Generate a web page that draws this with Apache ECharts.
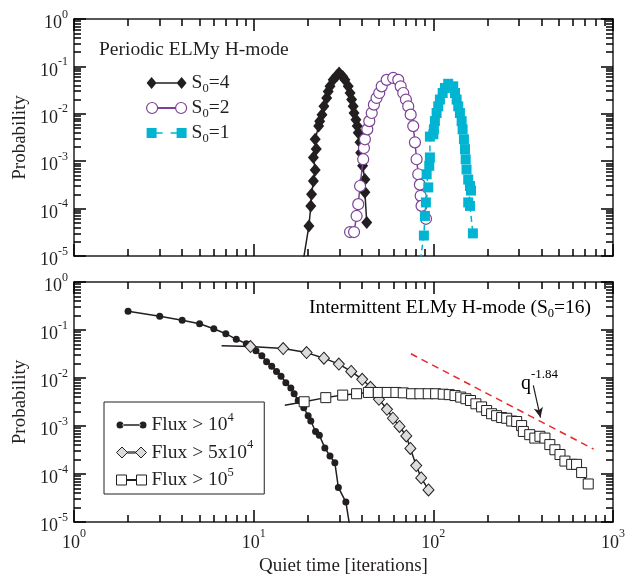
<!DOCTYPE html>
<html>
<head>
<meta charset="utf-8">
<script src="https://cdn.jsdelivr.net/npm/echarts@6/dist/echarts.min.js"></script>
<style>html,body{margin:0;padding:0;background:#fff}#c{width:628px;height:577px}</style>
</head>
<body>
<div id="c"></div>
<script>
// ---------- DATA ----------
// Top panel: Periodic ELMy H-mode
const s4X = [18.5, 20.3, 20.8, 21.0, 21.5, 22.0, 21.5, 22.3, 22.0, 23.0, 23.3, 24.0, 24.6, 25.5, 26.0, 26.6, 27.7, 29.0, 29.9, 31.3, 32.2, 33.6, 34.4, 35.1, 35.8, 36.2, 37.1, 37.7, 38.2, 39.1, 39.4, 40.4, 41.6, 41.6, 42.6];
const s4Y = [5e-6, 4.3e-5, 1.14e-4, 2e-4, 3.8e-4, 6.5e-4, 1.2e-3, 1.8e-3, 2.9e-3, 5.5e-3, 7e-3, 9.6e-3, 0.0144, 0.0216, 0.0297, 0.038, 0.052, 0.0635, 0.0723, 0.0615, 0.052, 0.038, 0.0275, 0.02, 0.0144, 0.0104, 0.0075, 0.0055, 0.004, 0.0025, 0.0015, 8e-4, 4.1e-4, 2.2e-4, 5.1e-5];
const s2X = [34.4, 36.2, 37.4, 38.2, 39.1, 40.7, 41.1, 41.6, 42.9, 44.0, 45.4, 46.7, 48.3, 50.0, 51.6, 55.0, 59.8, 63.8, 65.8, 68.0, 70.4, 72.5, 74.8, 77.3, 79.0, 80.7, 82.4, 84.2, 85.0, 86.0, 91.0];
const s2Y = [3.2e-5, 3.2e-5, 7e-5, 1.24e-4, 3e-4, 1.1e-3, 1.9e-3, 2.9e-3, 4.7e-3, 7e-3, 0.0104, 0.0156, 0.0216, 0.0275, 0.038, 0.052, 0.057, 0.052, 0.038, 0.0275, 0.02, 0.0144, 0.0096, 0.0055, 0.0025, 0.0011, 5.3e-4, 3.2e-4, 1.86e-4, 1.14e-4, 6.1e-5];
const s1X = [83.0, 88.6, 89.8, 90.9, 93.7, 91.8, 94.9, 95.7, 95.7, 100.0, 100.7, 102.0, 104.3, 106.5, 108.8, 112.7, 116.0, 121.0, 129.0, 132.0, 134.8, 137.6, 140.6, 143.7, 145.5, 148.0, 150.0, 151.4, 153.0, 156.4, 160.0, 162.0, 156.4, 160.0, 166.0];
const s1Y = [5e-6, 2.7e-5, 7e-5, 1.35e-4, 2.8e-4, 5.3e-4, 8e-4, 1.2e-3, 3.3e-3, 3.7e-3, 4.7e-3, 7e-3, 0.0104, 0.0144, 0.02, 0.0275, 0.035, 0.043, 0.038, 0.0275, 0.02, 0.0144, 0.0104, 0.007, 0.0047, 0.0029, 0.0018, 0.0011, 6.7e-4, 4.1e-4, 3e-4, 2.4e-4, 1.35e-4, 1.14e-4, 3e-5];

// Bottom panel: Intermittent ELMy H-mode (S0=16)
const f4X = [2, 3, 4, 5, 6, 7, 8, 9.1, 10.3, 11.1, 11.8, 12.6, 13.4, 14.2, 15.1, 16.1, 16.8, 17.7, 19.0, 20.1, 20.8, 22.1, 23.2, 24.9, 26.6, 28.3, 29.6, 32.6, 35.0];
const f4Y = [0.245, 0.193, 0.16, 0.135, 0.106, 0.0838, 0.064, 0.052, 0.0368, 0.029, 0.0219, 0.0175, 0.0136, 0.0109, 0.008, 0.0062, 0.0047, 0.0034, 0.0024, 0.00164, 0.00127, 0.00077, 0.00064, 0.00035, 0.000236, 0.000172, 5.25e-5, 2.6e-5, 5e-6];
const f5X = [6.63, 9.6, 14.6, 19.7, 24.6, 29.8, 34.9, 40.2, 44.7, 49.8, 55.2, 59.6, 64.8, 70.7, 74.5, 80.3, 85.6, 94.0];
const f5Y = [0.0467, 0.0452, 0.041, 0.0338, 0.0259, 0.0195, 0.0137, 0.0094, 0.0064, 0.0036, 0.00223, 0.00145, 0.00098, 0.00062, 0.00034, 0.00015, 8.3e-5, 4.65e-5];
const f6X = [14.9, 19.1, 25.2, 31.3, 37.4, 43.5, 49.4, 55.4, 61.9, 68, 75.7, 84.2, 93.7, 103, 113.5, 122.6, 132, 142, 151.8, 161, 172.6, 185.6, 198, 211, 225, 240, 256, 273, 291, 310, 317, 344, 367, 392, 418, 445, 475, 507, 540, 589, 627, 669, 728];
const f6Y = [0.00272, 0.0032, 0.0039, 0.0044, 0.0047, 0.005, 0.005, 0.005, 0.005, 0.0049, 0.0047, 0.0047, 0.0047, 0.0047, 0.0046, 0.0045, 0.0043, 0.004, 0.0037, 0.0034, 0.0029, 0.0025, 0.0021, 0.0018, 0.00164, 0.0015, 0.00145, 0.00127, 0.00124, 0.00102, 0.00077, 0.00066, 0.00056, 0.00061, 0.00056, 0.00041, 0.00032, 0.000255, 0.000186, 0.000159, 0.000159, 0.000107, 6.2e-5];
// Power-law guide q^-1.84 (end points) and arrow (tail, head)
const guideX = [75, 780];
const guideY = [0.032, 0.00033];
const arrowX = [360, 395];
const arrowY = [0.0070, 0.0015];

// Axis settings
const xMin = 1, xMax = 1000, yMin = 1e-5, yMax = 1;

// ---------- STYLE ----------
const FONT = 'Liberation Serif';
const INK = '#231f20';
const PURPLE = '#7b4397';
const CYAN = '#00b4d2';
const RED = '#e8282b';

function pts(xs, ys, noSym) {
  return xs.map((x, i) => {
    const it = { value: [x, ys[i]] };
    if (noSym && noSym.indexOf(i) >= 0) it.symbol = 'none';
    return it;
  });
}
function pow10Label(v) {
  const e = Math.round(Math.log10(v));
  return '{b|10}{s|' + e + '}';
}
const powRich = {
  b: { fontFamily: FONT, fontSize: 18, color: INK, padding: [9, 0, 0, 0] },
  s: { fontFamily: FONT, fontSize: 12, color: INK, padding: [0, 0, 9, 0] }
};

function logAxis(kind, gridIndex, position, opts) {
  const base = {
    type: 'log', gridIndex, position,
    min: kind === 'x' ? xMin : yMin, max: kind === 'x' ? xMax : yMax,
    axisLine: { show: true, onZero: false, lineStyle: { color: INK, width: 1.5 } },
    axisTick: { show: true, inside: true, length: 12, lineStyle: { color: '#000', width: 1.5 } },
    minorTick: { show: true, splitNumber: 9, length: 7, lineStyle: { color: '#000', width: 1.5 } },
    splitLine: { show: false }, minorSplitLine: { show: false },
    axisLabel: { show: false }
  };
  return Object.assign(base, opts || {});
}
const yLabel = { show: true, formatter: pow10Label, rich: powRich, margin: 6, align: 'right' };
const xLabel = { show: true, formatter: pow10Label, rich: powRich, margin: 3 };
const nameStyle = { fontFamily: FONT, fontSize: 19, color: INK };

const sub = { fontFamily: FONT, fontSize: 12.5, color: INK, padding: [12, 0, 0, 0] };
const sup = { fontFamily: FONT, fontSize: 12.5, color: INK, padding: [0, 0, 15, 0] };
const txt = { fontFamily: FONT, fontSize: 19.5, color: INK };

const chart = echarts.init(document.getElementById('c'));
chart.setOption({
  animation: false,
  backgroundColor: '#fff',
  grid: [
    { left: 74, top: 19, width: 539, height: 237 },
    { left: 74, top: 282, width: 539, height: 243 }
  ],
  xAxis: [
    logAxis('x', 0, 'bottom'),
    logAxis('x', 0, 'top'),
    logAxis('x', 1, 'bottom', { axisLabel: xLabel, name: 'Quiet time [iterations]', nameLocation: 'middle', nameGap: 35, nameTextStyle: nameStyle }),
    logAxis('x', 1, 'top')
  ],
  yAxis: [
    logAxis('y', 0, 'left', { axisLabel: yLabel, name: 'Probability', nameLocation: 'middle', nameGap: 34, nameTextStyle: nameStyle }),
    logAxis('y', 0, 'right'),
    logAxis('y', 1, 'left', { axisLabel: yLabel, name: 'Probability', nameLocation: 'middle', nameGap: 34, nameTextStyle: nameStyle }),
    logAxis('y', 1, 'right')
  ],
  legend: [
    {
      left: 146, top: 73, orient: 'vertical', itemWidth: 40, itemHeight: 12, itemGap: 2.5, padding: 0,
      selectedMode: false,
      textStyle: { fontFamily: FONT, fontSize: 19.5, color: INK, rich: { t: txt, n: sub } },
      formatter: n => '{t|S}{n|0}{t|=' + n.split('=')[1] + '}',
      data: [
        { name: 'S0=4', icon: 'path://M0,6L5,0L10,6L5,12ZM30,6L35,0L40,6L35,12ZM9,5.2L31,5.2L31,6.8L9,6.8Z', itemStyle: { color: INK, borderWidth: 0 } },
        { name: 'S0=2', icon: 'path://M0,6A5.5,5.5,0,1,0,11,6A5.5,5.5,0,1,0,0,6ZM29,6A5.5,5.5,0,1,0,40,6A5.5,5.5,0,1,0,29,6ZM11,5.5L29,5.5L29,6.5L11,6.5Z', itemStyle: { color: '#fff', borderColor: PURPLE, borderWidth: 1.2 } },
        { name: 'S0=1', icon: 'path://M0,1L10,1L10,11L0,11ZM30,1L40,1L40,11L30,11ZM10,5.2L16,5.2L16,6.8L10,6.8ZM24,5.2L30,5.2L30,6.8L24,6.8Z', itemStyle: { color: CYAN, borderWidth: 0 } }
      ]
    },
    {
      left: 104, top: 402, orient: 'vertical', itemWidth: 30, itemHeight: 12, itemGap: 3.5,
      padding: [9, 11, 4, 12], borderColor: INK, borderWidth: 1, backgroundColor: '#fff',
      selectedMode: false,
      textStyle: { fontFamily: FONT, fontSize: 19.5, color: INK, rich: { t: txt, s: sup } },
      formatter: n => n.replace(/^(.*)\^(\d+)$/, '{t|$1}{s|$2}'),
      data: [
        { name: 'Flux > 10^4', icon: 'path://M0,3.5A3.5,3.5,0,1,0,7,3.5A3.5,3.5,0,1,0,0,3.5ZM23,3.5A3.5,3.5,0,1,0,30,3.5A3.5,3.5,0,1,0,23,3.5ZM6,2.8L24,2.8L24,4.2L6,4.2Z', itemStyle: { color: INK, borderWidth: 0 } },
        { name: 'Flux > 5x10^4', icon: 'path://M0,5.5L5.5,0L11,5.5L5.5,11ZM19,5.5L24.5,0L30,5.5L24.5,11ZM11,4.9L19,4.9L19,6.1L11,6.1Z', itemStyle: { color: '#dcdcdc', borderColor: INK, borderWidth: 1 } },
        { name: 'Flux > 10^5', icon: 'path://M0,0L10,0L10,10L0,10ZM20,0L30,0L30,10L20,10ZM10,4.5L20,4.5L20,5.5L10,5.5Z', itemStyle: { color: '#fff', borderColor: INK, borderWidth: 1 } }
      ]
    }
  ],
  graphic: [
    { type: 'text', left: 99, top: 40, style: { text: 'Periodic ELMy H-mode', font: '19.5px "Liberation Serif"', fill: INK } },
    { type: 'text', right: 37, top: 298, style: { text: '{t|Intermittent ELMy H-mode (S}{n|0}{t|=16)}', rich: { t: txt, n: sub } } },
    { type: 'text', left: 521, top: 368, style: { text: '{q|q}{s|-1.84}', rich: { q: { fontFamily: FONT, fontSize: 20, color: INK, padding: [4, 0, 0, 0] }, s: { fontFamily: FONT, fontSize: 13, color: INK, padding: [0, 0, 14, 0] } } } }
  ],
  series: [
    { name: 'S0=4', type: 'line', xAxisIndex: 0, yAxisIndex: 0, data: pts(s4X, s4Y, [0]),
      symbol: 'diamond', symbolSize: [11, 13], itemStyle: { color: INK }, lineStyle: { color: INK, width: 1.5 }, z: 3 },
    { name: 'S0=2', type: 'line', xAxisIndex: 0, yAxisIndex: 0, data: pts(s2X, s2Y),
      symbol: 'circle', symbolSize: 11, itemStyle: { color: '#fff', borderColor: PURPLE, borderWidth: 1.2 }, lineStyle: { color: PURPLE, width: 1.5 }, z: 4 },
    { name: 'S0=1', type: 'line', xAxisIndex: 0, yAxisIndex: 0, data: pts(s1X, s1Y, [0]),
      symbol: 'rect', symbolSize: 10, itemStyle: { color: CYAN }, lineStyle: { color: CYAN, width: 1.5, type: [6, 4] }, z: 5 },
    { name: 'Flux > 10^4', type: 'line', xAxisIndex: 2, yAxisIndex: 2, data: pts(f4X, f4Y, [f4X.length - 1]),
      symbol: 'circle', symbolSize: 7, itemStyle: { color: INK }, lineStyle: { color: INK, width: 1.5 }, z: 3 },
    { name: 'Flux > 5x10^4', type: 'line', xAxisIndex: 2, yAxisIndex: 2, data: pts(f5X, f5Y, [0]),
      symbol: 'diamond', symbolSize: [11, 12], itemStyle: { color: '#dcdcdc', borderColor: INK, borderWidth: 1 }, lineStyle: { color: INK, width: 1.5 }, z: 4 },
    { name: 'Flux > 10^5', type: 'line', xAxisIndex: 2, yAxisIndex: 2, data: pts(f6X, f6Y, [0]),
      symbol: 'rect', symbolSize: 10, itemStyle: { color: '#fff', borderColor: INK, borderWidth: 1 }, lineStyle: { color: INK, width: 1.5 }, z: 5,
      markLine: { silent: true, symbol: ['none', 'arrow'], symbolSize: [7, 10], label: { show: false },
        lineStyle: { color: INK, width: 1.2, type: 'solid' },
        data: [[{ coord: [arrowX[0], arrowY[0]] }, { coord: [arrowX[1], arrowY[1]] }]] } },
    { name: 'guide', type: 'line', xAxisIndex: 2, yAxisIndex: 2, data: pts(guideX, guideY),
      symbol: 'none', lineStyle: { color: RED, width: 1.5, type: [7, 5] }, z: 6 }
  ]
});
</script>
</body>
</html>
